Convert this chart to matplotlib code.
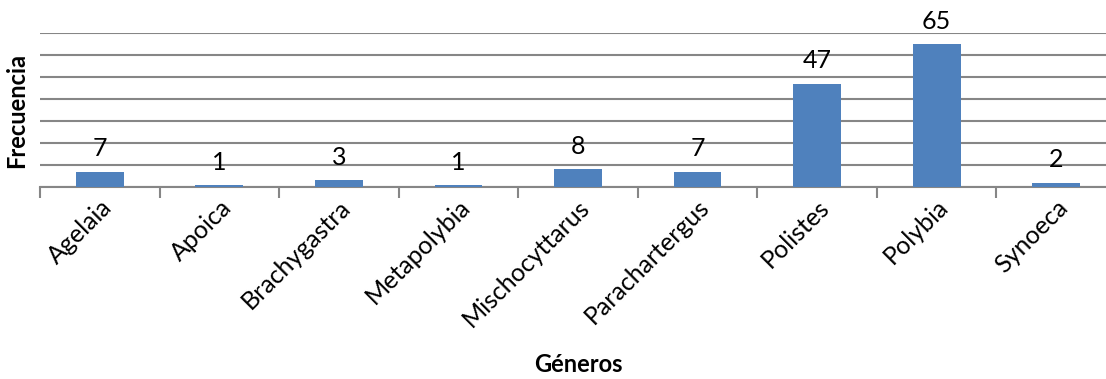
import numpy as np
import matplotlib.pyplot as plt

generos = ['Agelaia', 'Apoica', 'Brachygastra', 'Metapolybia', 'Mischocyttarus',
           'Parachartergus', 'Polistes', 'Polybia', 'Synoeca']
frecuencia = [7, 1, 3, 1, 8, 7, 47, 65, 2]

plt.rcParams['font.family'] = ['Lato', 'DejaVu Sans']

fig = plt.figure(figsize=(11.06, 3.79), dpi=100)
# el area de trazado sobrepasa un poco el borde derecho
ax = fig.add_axes([40/1106, 1 - 187/379, 1076/1106, 154/379])

x = np.arange(len(generos))
barras = ax.bar(x, frecuencia, width=0.4, color='#4F81BD', zorder=3)

# etiquetas de valor encima de cada barra
for xi, v in zip(x, frecuencia):
    ax.annotate(str(v), (xi, v), xytext=(0, 8), textcoords='offset points',
                ha='center', va='bottom', fontsize=18)

ax.set_xlim(-0.5, len(generos) - 0.5)
ax.set_ylim(0, 70)
ax.set_yticks(np.arange(0, 71, 10))
ax.set_yticklabels([])
ax.tick_params(axis='y', length=0)
ax.grid(axis='y', color='#868686', linewidth=1.5, zorder=0)

# ticks en los limites entre categorias
ax.set_xticks(np.arange(-0.5, len(generos), 1))
ax.set_xticklabels([])
ax.set_xticks(x, minor=True)
ax.set_xticklabels(generos, minor=True, rotation=45, ha='right',
                   rotation_mode='anchor', fontsize=18)
ax.tick_params(axis='x', which='major', length=8, width=1.5, color='#868686')
ax.tick_params(axis='x', which='minor', length=0, pad=6)

for s in ['top', 'right', 'left']:
    ax.spines[s].set_visible(False)
ax.spines['bottom'].set_color('#868686')
ax.spines['bottom'].set_linewidth(1.5)

ax.set_ylabel('Frecuencia', fontsize=17, fontweight='bold', labelpad=5)
ax.set_xlabel('Géneros', fontsize=17, fontweight='bold')
ax.xaxis.set_label_coords(538/1076, -166/154)

fig.savefig('out.png', dpi=100)
